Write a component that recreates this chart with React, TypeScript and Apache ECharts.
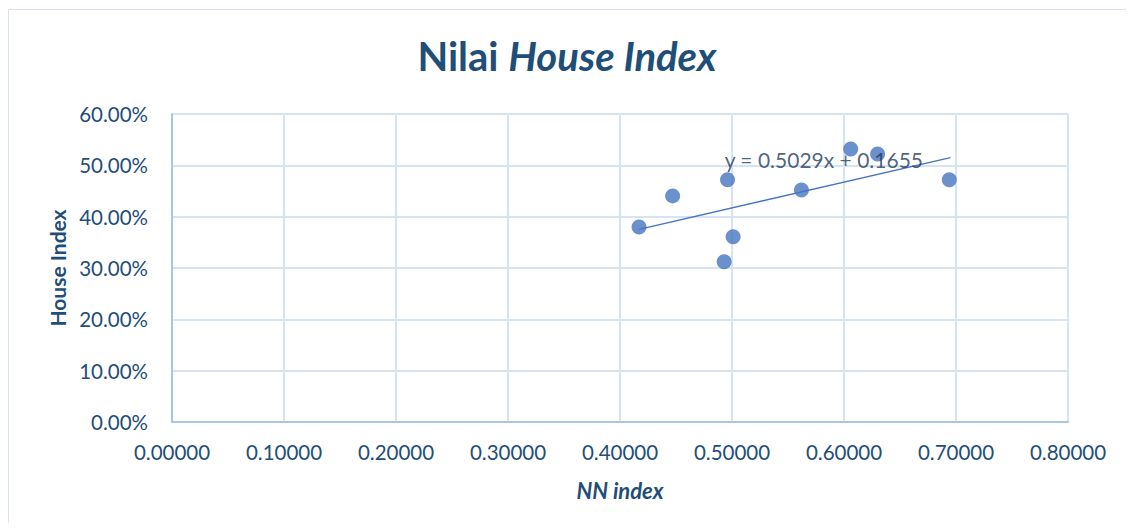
import React, { useEffect, useRef } from "react";
import * as echarts from "echarts";

const nnIndex = [0.417, 0.447, 0.493, 0.496, 0.501, 0.562, 0.606, 0.63, 0.694];
const houseIndex = [0.38, 0.4405, 0.312, 0.472, 0.361, 0.452, 0.532, 0.522, 0.472];
const slope = 0.5029;
const intercept = 0.1655;
const trendX = [0.417, 0.695];
const xTicks = [0, 0.1, 0.2, 0.3, 0.4, 0.5, 0.6, 0.7, 0.8];
const yTicks = [0, 0.1, 0.2, 0.3, 0.4, 0.5, 0.6];

const FONT = "Lato, 'Noto Sans', sans-serif";
const DARK = "#1F4E79";

export default function App() {
  const ref = useRef<HTMLDivElement>(null);
  useEffect(() => {
    if (!ref.current) return;
    const chart = echarts.init(ref.current, undefined, { renderer: "svg" });
    const points = nnIndex.map((x, i) => [x, houseIndex[i]]);
    const trend = trendX.map((x) => [x, slope * x + intercept]);
    chart.setOption({
      animation: false,
      backgroundColor: "#fff",
      textStyle: { fontFamily: FONT },
      title: {
        text: "{a|Nilai }{b|House Index}",
        left: "center",
        top: 23,
        textStyle: {
          rich: {
            a: { fontSize: 40, fontWeight: "bold", color: DARK, fontFamily: FONT },
            b: { fontSize: 40, fontWeight: "bold", fontStyle: "italic", color: DARK, fontFamily: FONT },
          },
        },
      },
      graphic: [
        {
          type: "rect",
          shape: { x: 0.5, y: 1.5, width: 1140, height: 540 },
          style: { fill: "none", stroke: "#D9E2EE", lineWidth: 1 },
          silent: true,
        },
      ],
      grid: { left: 164, right: 58, top: 106, bottom: 101 },
      xAxis: {
        type: "value",
        min: xTicks[0],
        max: xTicks[xTicks.length - 1],
        interval: 0.1,
        name: "NN index",
        nameLocation: "middle",
        nameGap: 57,
        nameTextStyle: { fontSize: 22, fontWeight: "bold", fontStyle: "italic", color: DARK, fontFamily: FONT },
        axisLine: { show: true, lineStyle: { color: "#A9C4E8", width: 2 } },
        axisTick: { show: false },
        axisLabel: {
          color: DARK,
          fontSize: 20.5,
          margin: 19,
          formatter: (v: number) => v.toFixed(5),
        },
        splitLine: { show: true, lineStyle: { color: "#D5E3F3", width: 2 } },
      },
      yAxis: {
        type: "value",
        min: yTicks[0],
        max: yTicks[yTicks.length - 1],
        interval: 0.1,
        name: "House Index",
        nameLocation: "middle",
        nameGap: 104,
        nameTextStyle: { fontSize: 21, fontWeight: "bold", color: DARK, fontFamily: FONT },
        axisLine: { show: true, lineStyle: { color: "#A9C4E8", width: 2 } },
        axisTick: { show: false },
        axisLabel: {
          color: DARK,
          fontSize: 20.5,
          margin: 24,
          formatter: (v: number) => (v * 100).toFixed(2) + "%",
        },
        splitLine: { show: true, lineStyle: { color: "#D5E3F3", width: 2 } },
      },
      series: [
        {
          type: "line",
          data: trend,
          symbol: "none",
          lineStyle: { color: "#4472C4", width: 1.5 },
          z: 3,
          silent: true,
        },
        {
          type: "scatter",
          data: points,
          symbol: "circle",
          symbolSize: 15,
          itemStyle: { color: "#4676BF" },
          z: 4,
        },
        {
          type: "scatter",
          data: [[0.582, 0.5]],
          symbolSize: 0,
          z: 5,
          label: {
            show: true,
            position: "inside",
            formatter: "y = 0.5029x + 0.1655",
            fontSize: 21,
            color: "#1F3A5F",
            fontFamily: FONT,
            offset: [0, -6],
          },
          silent: true,
        },
      ],
    });
    return () => chart.dispose();
  }, []);
  return <div ref={ref} style={{ width: 1118, height: 515 }} />;
}
